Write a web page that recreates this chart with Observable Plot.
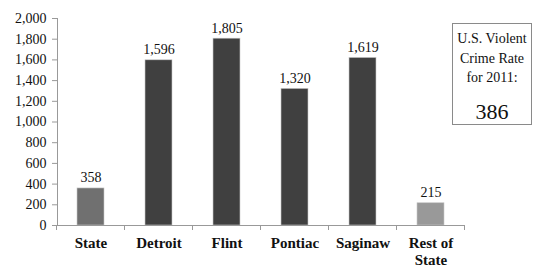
<!DOCTYPE html>
<html>
<head>
<meta charset="utf-8">
<script src="https://cdn.jsdelivr.net/npm/d3@7"></script>
<script src="https://cdn.jsdelivr.net/npm/@observablehq/plot@0.6"></script>
<style>
  html, body { margin: 0; padding: 0; background: #fff; }
  #wrap { position: relative; width: 534px; height: 268px; font-family: "Liberation Serif", "Times New Roman", serif; }
  #box { position: absolute; left: 452px; top: 23px; width: 80px; height: 102px; border: 1px solid #8a8a8a; background: #fff;
         text-align: center; color: #111; font-size: 14px; line-height: 19.5px; padding-top: 5px; box-sizing: border-box; }
  #box .big { font-size: 22px; line-height: 26px; margin-top: 11px; }
</style>
</head>
<body>
<div id="wrap"></div>
<script>
const categories = ["State", "Detroit", "Flint", "Pontiac", "Saginaw", "Rest of State"];
const rates = [358, 1596, 1805, 1320, 1619, 215];
const groups = ["state", "city", "city", "city", "city", "rest"];
const yTicks = [0, 200, 400, 600, 800, 1000, 1200, 1400, 1600, 1800, 2000];
const boxLines = ["U.S. Violent", "Crime Rate", "for 2011:"];
const usRate = 386;

const data = categories.map((c, i) => ({category: c, rate: rates[i], group: groups[i]}));
const fmt = d3.format(",");

function bandTicks(index, scales, values, dims) {
  const x = scales.x;
  const ns = "http://www.w3.org/2000/svg";
  const g = document.createElementNS(ns, "g");
  const step = x(categories[1]) - x(categories[0]);
  const bw = x.bandwidth ? x.bandwidth() : step * 0.4;
  const gap = (step - bw) / 2;
  const y0 = scales.y(0);
  const xs = categories.map(c => x(c) - gap).concat([x(categories[categories.length - 1]) + bw + gap]);
  for (const px of xs) {
    const l = document.createElementNS(ns, "line");
    l.setAttribute("x1", px); l.setAttribute("x2", px);
    l.setAttribute("y1", y0); l.setAttribute("y2", y0 + 5);
    l.setAttribute("stroke", "#999");
    g.appendChild(l);
  }
  return g;
}

const chart = Plot.plot({
  width: 534,
  height: 268,
  marginLeft: 57,
  marginRight: 69,
  marginTop: 18,
  marginBottom: 43,
  style: {fontFamily: "Liberation Serif, Times New Roman, serif", color: "#111", background: "#fff"},
  x: {domain: categories, paddingInner: 0.6, paddingOuter: 0.3, label: null},
  y: {domain: [0, 2000], label: null},
  color: {domain: ["state", "city", "rest"], range: ["#707070", "#404040", "#999999"]},
  marks: [
    Plot.barY(data, {x: "category", y: "rate", fill: "group", stroke: "#c8c8c8", strokeWidth: 0.6}),
    Plot.text(data, {x: "category", y: "rate", text: d => fmt(d.rate), lineAnchor: "bottom", dy: -6, fontSize: 14, fill: "#111"}),
    Plot.frame({anchor: "left", stroke: "#999"}),
    Plot.ruleY([0], {stroke: "#999"}),
    bandTicks,
    Plot.axisY({ticks: yTicks, tickFormat: fmt, tickSize: 5, tickPadding: 6, fontSize: 14, stroke: "#999", fill: "#111", label: null}),
    Plot.axisX({tickSize: 0, tickPadding: 11, fontSize: 15, fontWeight: "bold", lineHeight: 1.12, fill: "#111", label: null,
                tickFormat: d => d === "Rest of State" ? "Rest of\nState" : d})
  ]
});

const wrap = document.getElementById("wrap");
wrap.appendChild(chart);
const box = document.createElement("div");
box.id = "box";
box.innerHTML = boxLines.map(s => `<div>${s}</div>`).join("") + `<div class="big">${usRate}</div>`;
wrap.appendChild(box);
</script>
</body>
</html>
